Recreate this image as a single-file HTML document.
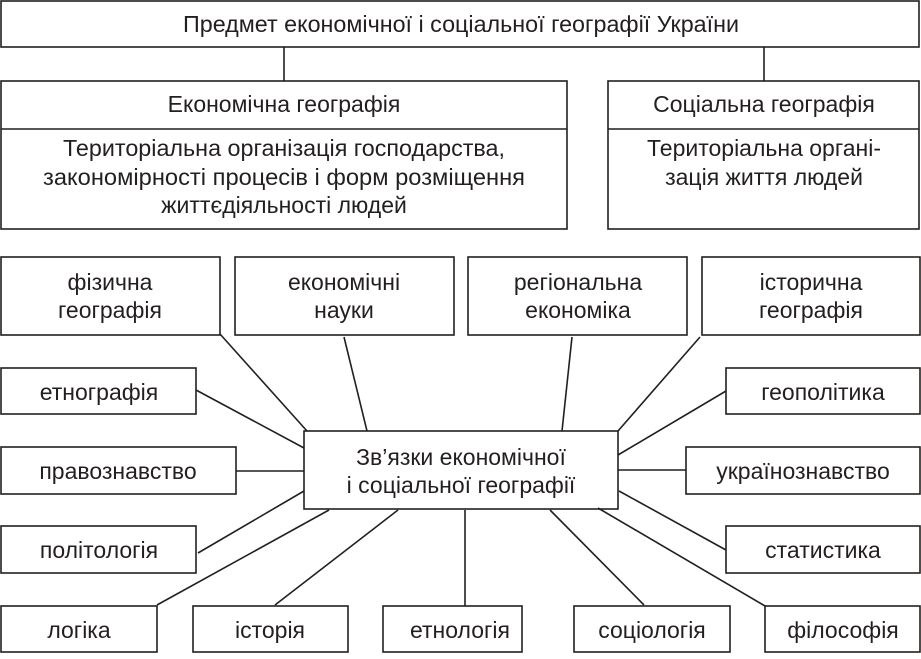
<!DOCTYPE html>
<html><head><meta charset="utf-8"><style>
html,body{margin:0;padding:0;background:#fff}
svg{display:block}
text{font-family:"Liberation Sans Narrow","Liberation Sans",sans-serif;font-size:23px;fill:#231f20;text-anchor:middle;dominant-baseline:central}
</style></head><body>
<svg width="921" height="659" viewBox="0 0 921 659" xmlns="http://www.w3.org/2000/svg">
<g fill="none" stroke="#231f20" stroke-width="1.6">
<rect x="1" y="1" width="918" height="46"/>
<line x1="284" y1="47" x2="284" y2="81"/>
<line x1="764" y1="47" x2="764" y2="81"/>
<rect x="1" y="81" width="566" height="148"/>
<line x1="1" y1="129" x2="567" y2="129"/>
<rect x="608" y="81" width="311" height="148"/>
<line x1="608" y1="129" x2="919" y2="129"/>
<rect x="1" y="257" width="219" height="78"/>
<rect x="235" y="257" width="219" height="78"/>
<rect x="468" y="257" width="219" height="78"/>
<rect x="702" y="257" width="218" height="78"/>
<rect x="1" y="368" width="195" height="46"/>
<rect x="1" y="447" width="235" height="47"/>
<rect x="1" y="526" width="195" height="47"/>
<rect x="1" y="606" width="156" height="46"/>
<rect x="193" y="606" width="155" height="46"/>
<rect x="383" y="606" width="139" height="46"/>
<rect x="574" y="606" width="156" height="46"/>
<rect x="765" y="606" width="155" height="46"/>
<rect x="726" y="368" width="194" height="46"/>
<rect x="686" y="447" width="234" height="47"/>
<rect x="726" y="526" width="194" height="47"/>
<rect x="304" y="431" width="314" height="78"/>
<line x1="220" y1="334" x2="307" y2="431"/>
<line x1="344" y1="337" x2="367" y2="431"/>
<line x1="572" y1="337" x2="562" y2="431"/>
<line x1="700" y1="337" x2="618" y2="431"/>
<line x1="196" y1="390" x2="304" y2="448"/>
<line x1="236" y1="471" x2="304" y2="471"/>
<line x1="198" y1="553" x2="304" y2="491"/>
<line x1="157" y1="605" x2="329" y2="510"/>
<line x1="275" y1="605" x2="398" y2="510"/>
<line x1="465" y1="510" x2="465" y2="606"/>
<line x1="550" y1="510" x2="644" y2="605"/>
<line x1="598" y1="508" x2="765" y2="606"/>
<line x1="619" y1="491" x2="726" y2="550"/>
<line x1="618" y1="470" x2="686" y2="470"/>
<line x1="618" y1="455" x2="726" y2="391"/>
</g>
<text x="461" y="24" textLength="556" lengthAdjust="spacingAndGlyphs">Предмет економічної і соціальної географії України</text>
<text x="284" y="104">Економічна географія</text>
<text x="284" y="148" textLength="442" lengthAdjust="spacingAndGlyphs">Територіальна організація господарства,</text>
<text x="284" y="177" textLength="482" lengthAdjust="spacingAndGlyphs">закономірності процесів і форм розміщення</text>
<text x="284" y="205">життєдіяльності людей</text>
<text x="764" y="104">Соціальна географія</text>
<text x="764" y="148">Територіальна органі-</text>
<text x="764" y="177">зація життя людей</text>
<text x="110" y="282">фізична</text>
<text x="110" y="310">географія</text>
<text x="344" y="282">економічні</text>
<text x="344" y="310">науки</text>
<text x="578" y="282">регіональна</text>
<text x="578" y="310">економіка</text>
<text x="811" y="282">історична</text>
<text x="811" y="310">географія</text>
<text x="99" y="392">етнографія</text>
<text x="118" y="471">правознавство</text>
<text x="99" y="550">політологія</text>
<text x="79" y="630">логіка</text>
<text x="270" y="630">історія</text>
<text x="460" y="630">етнологія</text>
<text x="652" y="630">соціологія</text>
<text x="843" y="630">філософія</text>
<text x="823" y="392">геополітика</text>
<text x="803" y="471">українознавство</text>
<text x="823" y="550">статистика</text>
<text x="461" y="457">Зв’язки економічної</text>
<text x="461" y="485">і  соціальної географії</text>
</svg>
</body></html>
